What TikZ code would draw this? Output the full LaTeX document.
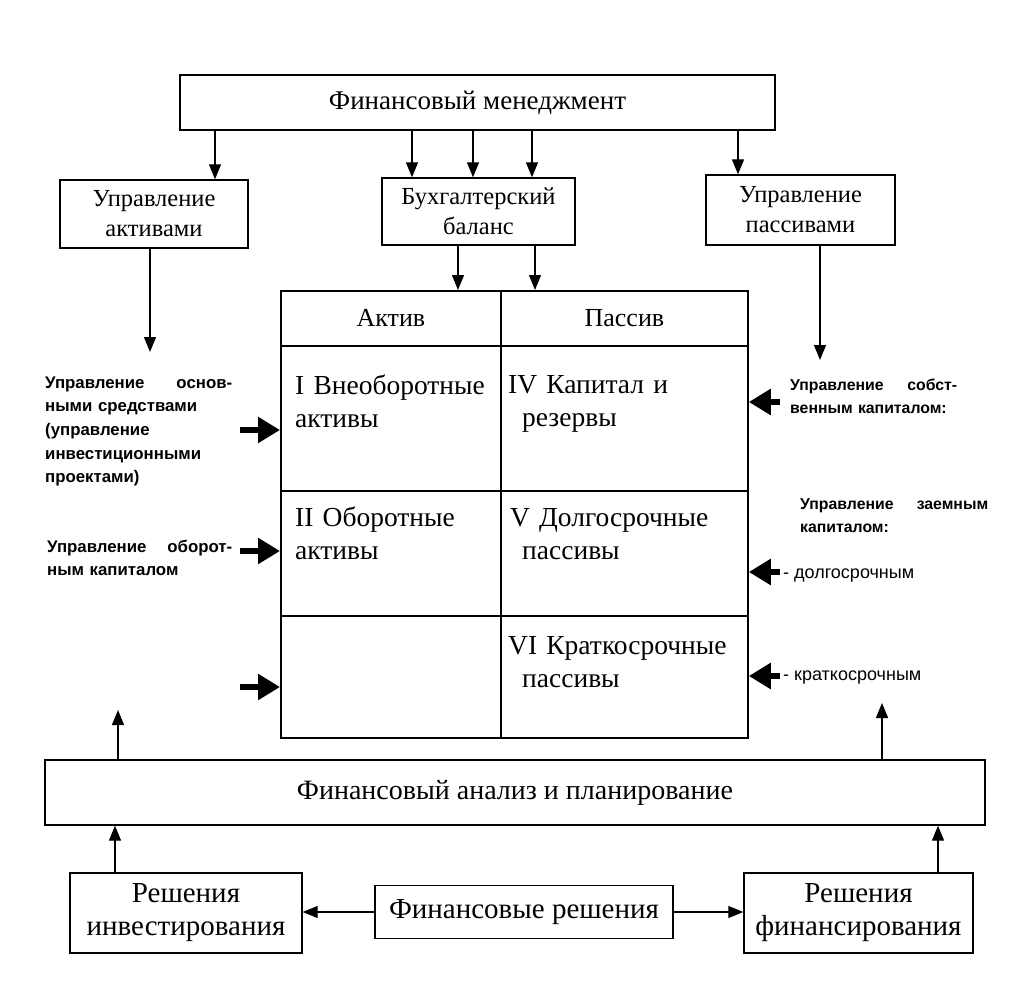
\documentclass[tikz,border=0pt]{standalone}
\usepackage{fontspec}
\setmainfont{Liberation Serif}
\setsansfont{Liberation Sans}
\usetikzlibrary{positioning, arrows.meta}

\begin{document}
\begin{tikzpicture}[x=1pt, y=-1pt,
		box/.style={draw, line width=1.4pt, inner sep=0pt, align=center, font=\fontsize{24.5}{30}\selectfont},
		bigbox/.style={box, font=\fontsize{29}{33}\selectfont},
		cell/.style={draw, line width=1.8pt, inner sep=0pt, anchor=north west, font=\fontsize{26}{30}\selectfont},
		celltext/.style={anchor=base west, inner sep=0pt, text width=260pt, align=left, font=\fontsize{27.5}{33}\selectfont},
		note/.style={anchor=base west, inner sep=0pt, align=left, font=\sffamily\bfseries\fontsize{16.8}{23.7}\selectfont},
		rnote/.style={note, font=\sffamily\bfseries\fontsize{15.8}{23.7}\selectfont},
		arr/.style={-{Triangle[length=15pt, width=12pt]}, line width=1.3pt},
		fatarr/.style={-{Triangle[length=22pt, width=25pt]}, line width=5.5pt},
	]
		\useasboundingbox (0,0) rectangle (1035,1000);

		% upper boxes
		\node[box, minimum width=595pt, minimum height=55pt, font=\fontsize{27}{30}\selectfont] (fm) at (477.5,102.5) {Финансовый менеджмент};
		\node[box, minimum width=188pt, minimum height=68pt] (ua) at (154,214) {Управление\\активами};
		\node[box, minimum width=193pt, minimum height=67pt] (bb) at (478.5,211.5) {Бухгалтерский\\баланс};
		\node[box, minimum width=189pt, minimum height=70pt] (up) at (800.5,210) {Управление\\пассивами};

		\foreach \x/\t [count=\i] in {215/ua, 412/bb, 473/bb, 532/bb, 738/up} {
			\coordinate (k\i) at (\x,0);
			\draw[arr] (fm.south -| k\i) -- (\t.north -| k\i);
		}

		% balance sheet
		\node[cell, minimum width=220pt, minimum height=55pt] (h1) at (280,290) {Актив};
		\node[cell, minimum width=247pt, minimum height=55pt] (h2) at (500,290) {Пассив};
		\node[cell, minimum width=220pt, minimum height=145pt] (a1) at (280,345) {};
		\node[cell, minimum width=247pt, minimum height=145pt] (p1) at (500,345) {};
		\node[cell, minimum width=220pt, minimum height=125pt] (a2) at (280,490) {};
		\node[cell, minimum width=247pt, minimum height=125pt] (p2) at (500,490) {};
		\node[cell, minimum width=220pt, minimum height=122pt] (a3) at (280,615) {};
		\node[cell, minimum width=247pt, minimum height=122pt] (p3) at (500,615) {};

		\node[celltext] (ta1) at (295,394) {I Внеоборотные\\активы};
		\node[celltext] (tp1) at (508,393) {IV Капитал и\\\hspace*{14pt}резервы};
		\node[celltext] (ta2) at (295,526) {II Оборотные\\активы};
		\node[celltext] (tp2) at (510,526) {V Долгосрочные\\\hspace*{12pt}пассивы};
		\node[celltext] (tp3) at (508,654) {VI Краткосрочные\\\hspace*{14pt}пассивы};

		\foreach \x [count=\i] in {458, 535} {
			\coordinate (m\i) at (\x,0);
			\draw[arr] (bb.south -| m\i) -- (h1.north -| m\i);
		}

		% assets side
		\coordinate (uaend) at (150,352);
		\draw[arr] (ua.south -| uaend) -- (uaend);
		\node[note, text width=187pt] (n1) at (45,388) {Управление\hfill основ-\\ными средствами\\(управление\\инвестиционными\\проектами)};
		\node[note, text width=185pt] (n2) at (47,552) {Управление\hfill оборот-\\ным капиталом};
		\foreach \y [count=\i] in {430, 551, 687} {
			\coordinate (la\i) at (240,\y);
			\draw[fatarr] (la\i) -- (la\i -| a1.west);
		}

		% liabilities side
		\coordinate (upend) at (820,360);
		\draw[arr] (up.south -| upend) -- (upend);
		\node[rnote, text width=167pt] (n3) at (790,390) {Управление\hfill собст-\\венным капиталом:};
		\node[rnote, text width=188pt] (n4) at (800,509) {Управление\hfill заемным\\капиталом:};
		\node[note, font=\sffamily\fontsize{18}{20}\selectfont] (n5) at (783,578) {- долгосрочным};
		\node[note, font=\sffamily\fontsize{18}{20}\selectfont] (n6) at (783,680) {- краткосрочным};
		\foreach \y [count=\i] in {402, 572, 676} {
			\coordinate (rp\i) at (780,\y);
			\draw[fatarr] (rp\i) -- (rp\i -| p1.east);
		}

		% analysis and decisions
		\node[box, minimum width=940pt, minimum height=65pt, font=\fontsize{28}{30}\selectfont] (fa) at (515,792.5) {Финансовый анализ и планирование};
		\coordinate (fal) at (118,710);
		\coordinate (far) at (882,703);
		\draw[arr] (fa.north -| fal) -- (fal);
		\draw[arr] (fa.north -| far) -- (far);

		\node[bigbox, minimum width=232pt, minimum height=80pt] (inv) at (186,913) {Решения\\инвестирования};
		\node[bigbox, minimum width=298pt, minimum height=53pt] (fd) at (524,912) {Финансовые решения};
		\node[bigbox, minimum width=229pt, minimum height=80pt] (fin) at (858.5,913) {Решения\\финансирования};

		\coordinate (iu) at (115,0);
		\coordinate (fu) at (938,0);
		\draw[arr] (inv.north -| iu) -- (fa.south -| iu);
		\draw[arr] (fin.north -| fu) -- (fa.south -| fu);
		\draw[arr] (fd.west) -- (fd.west -| inv.east);
		\draw[arr] (fd.east) -- (fd.east -| fin.west);
	\end{tikzpicture}
\end{document}
